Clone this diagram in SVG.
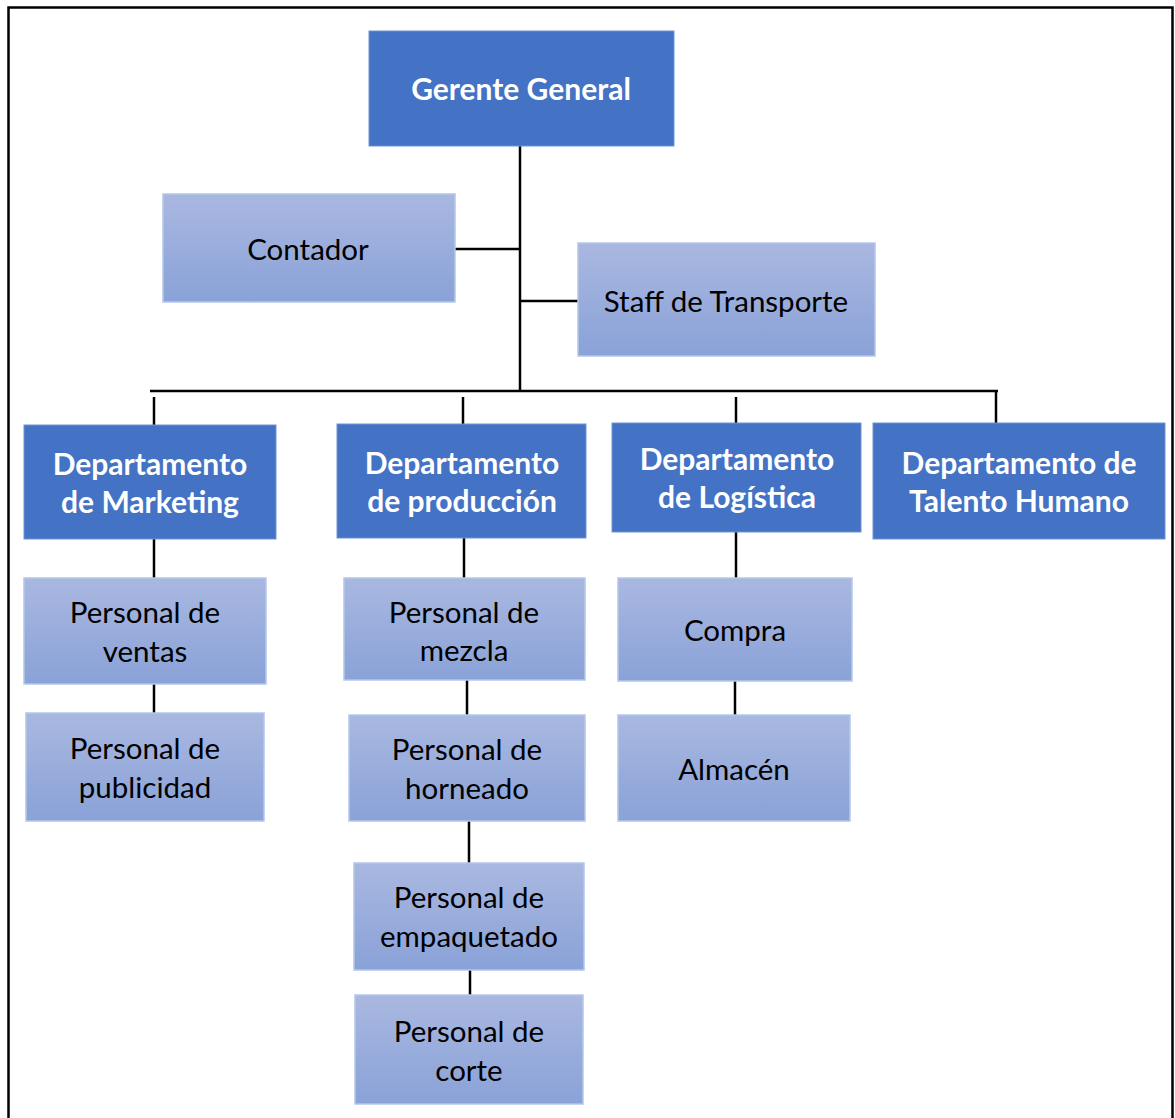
<svg xmlns="http://www.w3.org/2000/svg" width="1175" height="1118" viewBox="0 0 1175 1118">
<defs>
<linearGradient id="lg" x1="0" y1="0" x2="0" y2="1">
<stop offset="0" stop-color="#A9B8E0"/>
<stop offset="1" stop-color="#8AA2D8"/>
</linearGradient>
<style>
.dk{fill:#4472C4;stroke:#6F93D3;stroke-width:1}
.lt{fill:url(#lg);stroke:#B4C7EA;stroke-width:1.5}
.tw{font-family:Lato,"Liberation Sans",sans-serif;font-weight:bold;font-size:30px;fill:#FFFFFF;text-anchor:middle}
.tb{font-family:Lato,"Liberation Sans",sans-serif;font-size:29.5px;fill:#000000;text-anchor:middle}
.ln{stroke:#000000;stroke-width:2.5;fill:none}
</style>
</defs>
<rect width="1175" height="1118" fill="#FFFFFF"/>
<path d="M8.5,1118 V7.5 H1172.5 V1118" fill="none" stroke="#000" stroke-width="2.5"/>
<g id="connectors">
<path class="ln" d="M520,146 V391"/>
<path class="ln" d="M455,249 H520"/>
<path class="ln" d="M520,301 H578"/>
<path class="ln" d="M150,391 H998"/>
<path class="ln" d="M154,397 V425"/>
<path class="ln" d="M463,397 V424"/>
<path class="ln" d="M736,397 V423"/>
<path class="ln" d="M996,391 V423"/>
<path class="ln" d="M154,539 V578"/>
<path class="ln" d="M154,684 V713"/>
<path class="ln" d="M464,538 V578"/>
<path class="ln" d="M467,680 V715"/>
<path class="ln" d="M469,821 V863"/>
<path class="ln" d="M470,970 V995"/>
<path class="ln" d="M736,532 V578"/>
<path class="ln" d="M735,681 V715"/>
</g>
<g id="gerente"><rect class="dk" x="369" y="31" width="305" height="115"/><text class="tw" x="521" y="100">Gerente General</text></g>
<g id="contador"><rect class="lt" x="163" y="194" width="292" height="108"/><text class="tb" x="308" y="260">Contador</text></g>
<g id="staff"><rect class="lt" x="578" y="243" width="297" height="113"/><text class="tb" x="726" y="312">Staff de Transporte</text></g>
<g id="marketing"><rect class="dk" x="24" y="425" width="252" height="114"/><text class="tw" x="150" y="475">Departamento</text><text class="tw" x="150" y="513">de Marketing</text></g>
<g id="produccion"><rect class="dk" x="337" y="424" width="249" height="114"/><text class="tw" x="462" y="474">Departamento</text><text class="tw" x="462" y="512">de producción</text></g>
<g id="logistica"><rect class="dk" x="612" y="423" width="249" height="109"/><text class="tw" x="737" y="470">Departamento</text><text class="tw" x="737" y="508">de Logística</text></g>
<g id="talento"><rect class="dk" x="873" y="423" width="292" height="116"/><text class="tw" x="1019" y="474">Departamento de</text><text class="tw" x="1019" y="512">Talento Humano</text></g>
<g id="ventas"><rect class="lt" x="24" y="578" width="242" height="106"/><text class="tb" x="145" y="623">Personal de</text><text class="tb" x="145" y="662">ventas</text></g>
<g id="publicidad"><rect class="lt" x="26" y="713" width="238" height="108"/><text class="tb" x="145" y="759">Personal de</text><text class="tb" x="145" y="798">publicidad</text></g>
<g id="mezcla"><rect class="lt" x="344" y="578" width="241" height="102"/><text class="tb" x="464" y="623">Personal de</text><text class="tb" x="464" y="661">mezcla</text></g>
<g id="horneado"><rect class="lt" x="349" y="715" width="236" height="106"/><text class="tb" x="467" y="760">Personal de</text><text class="tb" x="467" y="799">horneado</text></g>
<g id="empaquetado"><rect class="lt" x="354" y="863" width="230" height="107"/><text class="tb" x="469" y="908">Personal de</text><text class="tb" x="469" y="947">empaquetado</text></g>
<g id="corte"><rect class="lt" x="355" y="995" width="228" height="109"/><text class="tb" x="469" y="1042">Personal de</text><text class="tb" x="469" y="1081">corte</text></g>
<g id="compra"><rect class="lt" x="618" y="578" width="234" height="103"/><text class="tb" x="735" y="641">Compra</text></g>
<g id="almacen"><rect class="lt" x="618" y="715" width="232" height="106"/><text class="tb" x="734" y="780">Almacén</text></g>
</svg>
